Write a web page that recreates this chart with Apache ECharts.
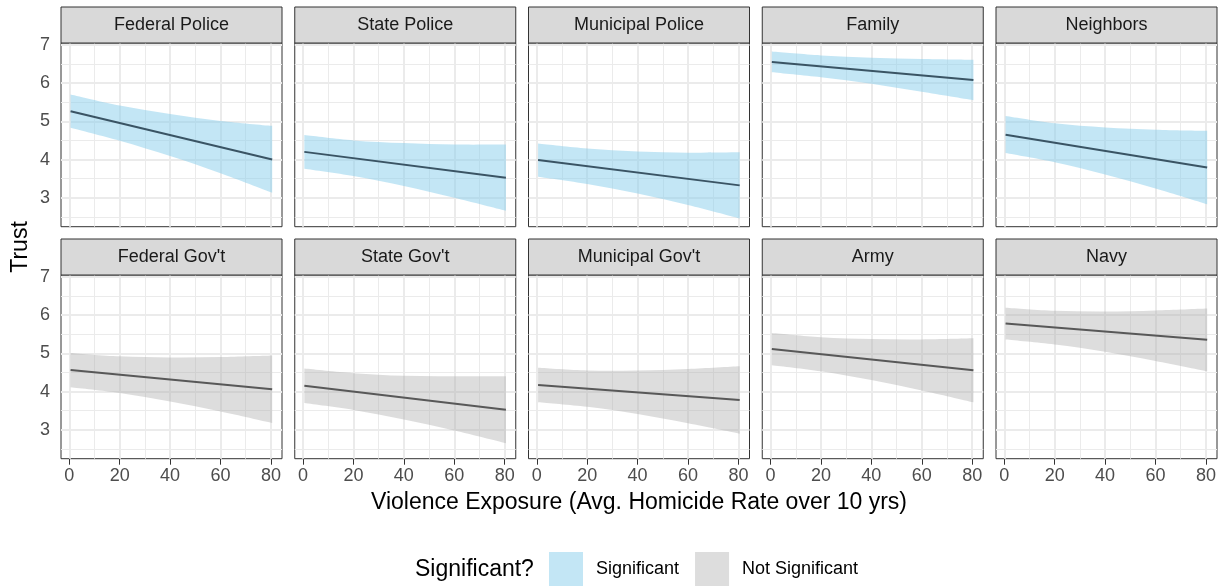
<!DOCTYPE html>
<html>
<head>
<meta charset="utf-8">
<script src="https://cdn.jsdelivr.net/npm/echarts@6/dist/echarts.min.js"></script>
<style>
  html, body { margin: 0; padding: 0; background: #ffffff; }
  #chart { width: 1225px; height: 586px; }
</style>
</head>
<body>
<div id="chart"></div>
<script>
// Trust in institutions versus violence exposure: fitted line with confidence band per facet
const panels = ['Federal Police', 'State Police', 'Municipal Police', 'Family', 'Neighbors',
                "Federal Gov't", "State Gov't", "Municipal Gov't", 'Army', 'Navy'];
const significant = [true, true, true, true, true, false, false, false, false, false];

// Confidence band, sampled along the homicide-rate axis
const bandX = [0.5, 20, 40, 60, 80.5];
const bandUpper = [
  [5.70, 5.41, 5.19, 5.01, 4.88],
  [4.64, 4.50, 4.43, 4.39, 4.39],
  [4.42, 4.29, 4.21, 4.18, 4.19],
  [6.82, 6.72, 6.66, 6.63, 6.61],
  [5.14, 4.95, 4.84, 4.78, 4.75],
  [5.01, 4.92, 4.89, 4.90, 4.94],
  [4.60, 4.48, 4.41, 4.40, 4.40],
  [4.62, 4.55, 4.55, 4.59, 4.66],
  [5.53, 5.42, 5.37, 5.36, 5.39],
  [6.19, 6.11, 6.09, 6.12, 6.17]
];
const bandLower = [
  [4.83, 4.49, 4.09, 3.64, 3.13],
  [3.76, 3.57, 3.31, 3.00, 2.66],
  [3.55, 3.36, 3.11, 2.81, 2.46],
  [6.28, 6.15, 5.98, 5.77, 5.55],
  [4.17, 3.93, 3.61, 3.24, 2.83],
  [4.11, 3.96, 3.74, 3.48, 3.18],
  [3.70, 3.52, 3.27, 2.98, 2.65],
  [3.72, 3.60, 3.41, 3.17, 2.90],
  [4.69, 4.53, 4.30, 4.03, 3.72],
  [5.36, 5.23, 5.04, 4.80, 4.53]
];

// Fitted line end points
const fitX = [0.5, 80.5];
const fitStart = [5.26, 4.20, 3.985, 6.55, 4.65, 4.56, 4.15, 4.17, 5.11, 5.775];
const fitEnd   = [4.00, 3.525, 3.325, 6.08, 3.79, 4.06, 3.525, 3.78, 4.555, 5.35];

// Axis breaks
const xTicks = [0, 20, 40, 60, 80];
const xMinor = [10, 30, 50, 70];
const yTicks = [3, 4, 5, 6, 7];
const yMinor = [2.5, 3.5, 4.5, 5.5, 6.5];
const xRange = [-3.3, 84.4];
const yRange = [2.245, 7.045];

const legendTitle = 'Significant?';
const legendLabels = ['Significant', 'Not Significant'];
const xTitle = 'Violence Exposure (Avg. Homicide Rate over 10 yrs)';
const yTitle = 'Trust';

// Styling
const FONT = '"Liberation Sans", Arial, Helvetica, sans-serif';
const SIG_FILL = 'rgba(135, 206, 235, 0.5)';
const NS_FILL = 'rgba(170, 170, 170, 0.4)';
const SIG_LINE = '#3a5464';
const NS_LINE = '#585858';
const GRID_COL = '#ebebeb';
const FRAME = '#333333';

// Facet layout
const PW = 221, PH = 183.7, STRIP_H = 36;
const colLeft = c => 61 + c * 233.75;
const rowTop = [43, 275];

// Smooth path through screen points (Catmull-Rom turned into cubic Bezier segments)
function curveTo(pts, first) {
  let d = (first ? 'M' : 'L') + pts[0][0] + ' ' + pts[0][1];
  for (let k = 0; k < pts.length - 1; k++) {
    const p0 = pts[Math.max(k - 1, 0)], p1 = pts[k], p2 = pts[k + 1], p3 = pts[Math.min(k + 2, pts.length - 1)];
    const c1 = [p1[0] + (p2[0] - p0[0]) / 6, p1[1] + (p2[1] - p0[1]) / 6];
    const c2 = [p2[0] - (p3[0] - p1[0]) / 6, p2[1] - (p3[1] - p1[1]) / 6];
    d += 'C' + c1[0] + ' ' + c1[1] + ' ' + c2[0] + ' ' + c2[1] + ' ' + p2[0] + ' ' + p2[1];
  }
  return d;
}

const grids = [], xAxes = [], yAxes = [], series = [], graphics = [];

const gridLines = [
  ...xMinor.map(v => ({ xAxis: v, lineStyle: { width: 1 } })),
  ...yMinor.map(v => ({ yAxis: v, lineStyle: { width: 1 } })),
  ...xTicks.map(v => ({ xAxis: v, lineStyle: { width: 2 } })),
  ...yTicks.map(v => ({ yAxis: v, lineStyle: { width: 2 } }))
];

panels.forEach((name, i) => {
  const col = i % 5, row = Math.floor(i / 5);
  const left = colLeft(col), top = rowTop[row];
  const sig = significant[i];
  const fill = sig ? SIG_FILL : NS_FILL;

  grids.push({
    left: left, top: top, width: PW, height: PH,
    show: true, backgroundColor: '#ffffff', borderColor: FRAME, borderWidth: 1,
    containLabel: false, outerBoundsMode: 'none'
  });

  xAxes.push({
    type: 'value', gridIndex: i, min: xRange[0], max: xRange[1],
    axisLine: { show: false },
    splitLine: { show: false },
    axisTick: { show: row === 1, customValues: xTicks, length: 6, lineStyle: { color: FRAME, width: 1 } },
    axisLabel: { show: row === 1, customValues: xTicks, margin: 8, fontSize: 18, color: '#4d4d4d', fontFamily: FONT }
  });

  yAxes.push({
    type: 'value', gridIndex: i, min: yRange[0], max: yRange[1],
    axisLine: { show: false },
    splitLine: { show: false },
    axisTick: { show: col === 0, customValues: yTicks, length: 6, lineStyle: { color: FRAME, width: 1 } },
    axisLabel: { show: col === 0, customValues: yTicks, margin: 11, fontSize: 18, color: '#4d4d4d', fontFamily: FONT }
  });

  // confidence band drawn as one filled shape between the lower and upper edges
  series.push({
    type: 'custom', name: sig ? legendLabels[0] : legendLabels[1],
    xAxisIndex: i, yAxisIndex: i, silent: true, z: 2,
    itemStyle: { color: fill },
    encode: { x: 0, y: [1, 2] },
    data: bandX.map((x, k) => [x, bandLower[i][k], bandUpper[i][k]]),
    renderItem: function (params, api) {
      if (params.dataIndexInside !== 0) return null;
      const n = params.dataInsideLength;
      const up = [], lo = [];
      for (let k = 0; k < n; k++) {
        up.push(api.coord([api.value(0, k), api.value(2, k)]));
        lo.push(api.coord([api.value(0, k), api.value(1, k)]));
      }
      const d = curveTo(up, true) + curveTo(lo.slice().reverse(), false) + 'Z';
      return { type: 'path', shape: { pathData: d }, style: { fill: fill, stroke: null } };
    },
    markLine: {
      silent: true, symbol: ['none', 'none'], animation: false, z: 1,
      label: { show: false },
      lineStyle: { color: GRID_COL, type: 'solid' },
      emphasis: { disabled: true },
      data: gridLines
    }
  });

  // fitted line
  series.push({
    type: 'line', name: 'fit-' + i, xAxisIndex: i, yAxisIndex: i,
    symbol: 'none', silent: true, z: 3,
    lineStyle: { color: sig ? SIG_LINE : NS_LINE, width: 2 },
    data: [[fitX[0], fitStart[i]], [fitX[1], fitEnd[i]]]
  });

  // facet strip
  const stripTop = top - STRIP_H;
  graphics.push({
    type: 'rect', silent: true, z: 10,
    shape: { x: left, y: stripTop, width: PW, height: STRIP_H },
    style: { fill: '#d9d9d9', stroke: FRAME, lineWidth: 1 }
  });
  graphics.push({
    type: 'text', silent: true, z: 11,
    x: left + PW / 2, y: stripTop + STRIP_H / 2 + 0.5,
    style: { text: name, fill: '#1a1a1a', font: '18px ' + FONT, textAlign: 'center', textVerticalAlign: 'middle' }
  });
});

// axis titles and legend title
graphics.push({
  type: 'text', silent: true, x: 639, y: 503,
  style: { text: xTitle, fill: '#000000', font: '23px ' + FONT, textAlign: 'center', textVerticalAlign: 'middle' }
});
graphics.push({
  type: 'text', silent: true, x: 20.5, y: 247, rotation: Math.PI / 2,
  style: { text: yTitle, fill: '#000000', font: '23px ' + FONT, textAlign: 'center', textVerticalAlign: 'middle' }
});
graphics.push({
  type: 'text', silent: true, x: 415, y: 569.5,
  style: { text: legendTitle, fill: '#000000', font: '23px ' + FONT, textAlign: 'left', textVerticalAlign: 'middle' }
});

const chart = echarts.init(document.getElementById('chart'), null, { renderer: 'canvas' });
chart.setOption({
  animation: false,
  backgroundColor: '#ffffff',
  textStyle: { fontFamily: FONT },
  grid: grids,
  xAxis: xAxes,
  yAxis: yAxes,
  series: series,
  graphic: graphics,
  legend: {
    left: 549, top: 552, padding: 0,
    icon: 'rect', itemWidth: 34, itemHeight: 34, itemGap: 16,
    selectedMode: false,
    itemStyle: { borderWidth: 0 },
    textStyle: { fontSize: 18, color: '#000000', fontFamily: FONT, padding: [0, 0, 0, 8] },
    data: [
      { name: legendLabels[0], itemStyle: { color: SIG_FILL, borderWidth: 0 } },
      { name: legendLabels[1], itemStyle: { color: NS_FILL, borderWidth: 0 } }
    ]
  }
});
</script>
</body>
</html>
